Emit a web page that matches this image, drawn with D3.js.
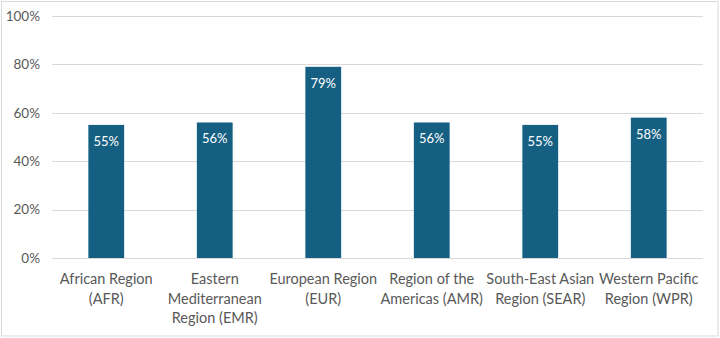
<!DOCTYPE html>
<html lang="en">
<head>
    <meta charset="UTF-8">
    <title>Share by WHO region</title>
    <script src="https://d3js.org/d3.v7.min.js"></script>
    <style>
        body {
            margin: 0;
            background: #fff;
            font-family: Lato, "Open Sans", Arial, sans-serif;
        }
        .axis-text {
            fill: #595959;
            font-size: 13.5px;
        }
        .cat-label {
            fill: #595959;
            font-size: 14.5px;
        }
        .bar-label {
            fill: #fff;
            font-size: 13px;
        }
        .grid line {
            stroke: #d9d9d9;
            stroke-width: 1;
        }
    </style>
</head>
<body>
    <div id="chart"></div>
    <script>
        // Data
        const categories = [
            ["African Region", "(AFR)"],
            ["Eastern", "Mediterranean", "Region (EMR)"],
            ["European Region", "(EUR)"],
            ["Region of the", "Americas (AMR)"],
            ["South-East Asian", "Region (SEAR)"],
            ["Western Pacific", "Region (WPR)"]
        ];
        const values = [0.55, 0.56, 0.79, 0.56, 0.55, 0.58];
        const yTicks = [0, 0.2, 0.4, 0.6, 0.8, 1.0];

        const W = 720, H = 338;
        const plot = {left: 52, right: 703, top: 16, bottom: 258};

        const svg = d3.select("#chart")
            .append("svg")
                .attr("width", W)
                .attr("height", H);

        // chart frame
        svg.append("rect")
            .attr("x", 1.5)
            .attr("y", 1.5)
            .attr("width", W - 3.5)
            .attr("height", H - 3.5)
            .attr("fill", "#fff")
            .attr("stroke", "#d9d9d9");

        const x = d3.scaleBand()
            .domain(d3.range(categories.length))
            .range([plot.left, plot.right])
            .paddingInner(0.67)
            .paddingOuter(0.335);

        const y = d3.scaleLinear()
            .domain([0, 1])
            .range([plot.bottom, plot.top]);

        // gridlines + tick labels
        const grid = svg.append("g")
            .attr("class", "grid");

        grid.selectAll("line")
            .data(yTicks)
            .join("line")
                .attr("x1", plot.left)
                .attr("x2", plot.right)
                .attr("y1", d => Math.round(y(d)) + 0.5)
                .attr("y2", d => Math.round(y(d)) + 0.5);

        svg.append("g")
            .selectAll("text")
            .data(yTicks)
            .join("text")
                .attr("class", "axis-text")
                .attr("x", 40)
                .attr("y", d => y(d))
                .attr("dy", "0.35em")
                .attr("text-anchor", "end")
                .text(d3.format(".0%"));

        // bars
        svg.append("g")
            .selectAll("rect")
            .data(values)
            .join("rect")
                .attr("x", (d, i) => x(i))
                .attr("y", d => y(d))
                .attr("width", x.bandwidth())
                .attr("height", d => y(0) - y(d))
                .attr("fill", "#156082");

        // value labels inside end
        svg.append("g")
            .selectAll("text")
            .data(values)
            .join("text")
                .attr("class", "bar-label")
                .attr("x", (d, i) => x(i) + x.bandwidth() / 2)
                .attr("y", d => y(d) + 21)
                .attr("text-anchor", "middle")
                .text(d3.format(".0%"));

        // category labels
        const cat = svg.append("g")
            .selectAll("text")
            .data(categories)
            .join("text")
                .attr("class", "cat-label")
                .attr("text-anchor", "middle")
                .attr("x", (d, i) => x(i) + x.bandwidth() / 2)
                .attr("y", 284);

        cat.selectAll("tspan")
            .data(d => d)
            .join("tspan")
                .attr("x", function() { return this.parentNode.getAttribute("x"); })
                .attr("dy", (d, i) => i === 0 ? 0 : 19.5)
                .text(d => d);
    </script>
</body>
</html>
